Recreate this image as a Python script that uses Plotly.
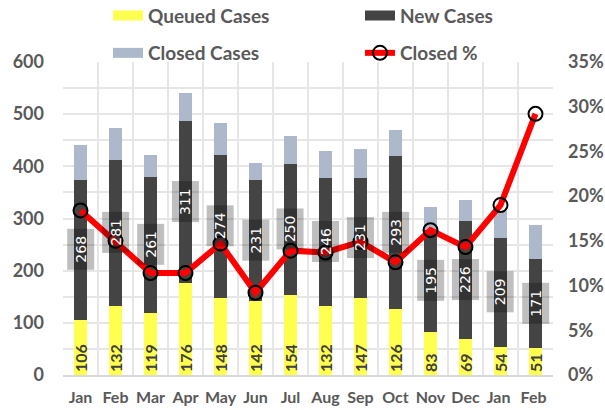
import plotly.graph_objects as go

months = ["Jan", "Feb", "Mar", "Apr", "May", "Jun", "Jul", "Aug", "Sep", "Oct", "Nov", "Dec", "Jan ", "Feb "]
queued = [106, 132, 119, 176, 148, 142, 154, 132, 147, 126, 83, 69, 54, 51]
new_cases = [268, 281, 261, 311, 274, 231, 250, 246, 231, 293, 195, 226, 209, 171]
closed = [67, 60, 42, 53, 61, 33, 55, 51, 55, 51, 44, 41, 51, 65]
closed_pct = [0.184, 0.150, 0.114, 0.114, 0.147, 0.092, 0.139, 0.137, 0.149, 0.126, 0.162, 0.143, 0.190, 0.292]

YELLOW = "#FFFF50"
DARK = "#444444"
LIGHT = "#ADB9CA"
RED = "#FF0000"
TXT = "#595959"
GRID = "#E6E6E6"
FONT = "Lato"

L, R, T, B = 63, 52, 62, 35
W, H = 605, 410
PW, PH = W - L - R, H - T - B

fig = go.Figure()

fig.add_trace(go.Bar(
    x=months, y=queued, name="Queued Cases", marker=dict(color=YELLOW, line=dict(width=0)),
    text=[str(v) for v in queued], textposition="inside", insidetextanchor="start",
    textangle=-90, textfont=dict(family=FONT, size=16, color="#404040", weight="bold"),
    showlegend=False, width=0.38,
))
fig.add_trace(go.Bar(
    x=months, y=new_cases, name="New Cases", marker=dict(color=DARK, line=dict(width=0)),
    showlegend=False, width=0.38,
))
fig.add_trace(go.Bar(
    x=months, y=closed, name="Closed Cases", marker=dict(color=LIGHT, line=dict(width=0)),
    showlegend=False, width=0.38,
))
fig.add_trace(go.Scatter(
    x=months, y=closed_pct, name="Closed %", yaxis="y2", mode="lines+markers",
    line=dict(color=RED, width=6),
    marker=dict(symbol="circle-open", size=14, color="black", line=dict(width=2)),
    legend="legend4",
))

# legend swatches
for nm, col, lg in [("Queued Cases", YELLOW, "legend"), ("New Cases", DARK, "legend2"),
                    ("Closed Cases", LIGHT, "legend3")]:
    fig.add_trace(go.Scatter(x=[None], y=[None], name=nm, mode="lines",
                             line=dict(color=col, width=10), legend=lg))

# New cases labels with boxes
for m, q, n in zip(months, queued, new_cases):
    fig.add_annotation(
        x=m, y=q + n / 2, text=str(n), showarrow=False, textangle=-90,
        font=dict(family="DejaVu Sans", size=14, color="white"),
        bgcolor="rgba(0,0,0,0.25)", width=40, height=26, borderpad=0,
    )

legfont = dict(family=FONT, size=19, color=TXT, weight="bold")


def leg(px, py):
    return dict(orientation="h", x=(px - L) / PW, xanchor="left", y=(H - B - py) / PH, yanchor="middle",
                font=legfont, bgcolor="rgba(0,0,0,0)", itemclick=False)


fig.update_layout(
    width=W, height=H, autosize=False,
    margin=dict(l=L, r=R, t=T, b=B, autoexpand=False),
    paper_bgcolor="white", plot_bgcolor="white",
    barmode="stack", bargap=0.62,
    uniformtext=dict(minsize=16, mode="show"),
    font=dict(family=FONT, color=TXT),
    legend=leg(108, 15.7),
    legend2=leg(360, 15.7),
    legend3=leg(108, 53),
    legend4=leg(360, 53),
    xaxis=dict(type="category", tickson="boundaries", showgrid=True, gridcolor=GRID, gridwidth=1.5,
               ticks="", showline=True, linecolor="#D9D9D9", linewidth=2, tickangle=0,
               tickfont=dict(family=FONT, size=16, color=TXT, weight="bold"), ticklabelstandoff=7,
               range=[-0.5, 13.5]),
    yaxis=dict(range=[0, 600], dtick=100, showgrid=True, gridcolor=GRID, gridwidth=1.5,
               minor=dict(dtick=50, showgrid=True, gridcolor=GRID, gridwidth=1.5),
               zeroline=False, ticks="", tickfont=dict(family=FONT, size=18, color=TXT, weight="bold"),
               ticklabelstandoff=18),
    yaxis2=dict(range=[0, 0.35], dtick=0.05, tickformat=".0%", overlaying="y", side="right",
                showgrid=False, zeroline=False, ticks="",
                tickfont=dict(family=FONT, size=18, color=TXT, weight="bold"), ticklabelstandoff=14),
)

fig.write_html("out.html", config={"displayModeBar": False},
               post_script="document.body.style.margin='0';")
